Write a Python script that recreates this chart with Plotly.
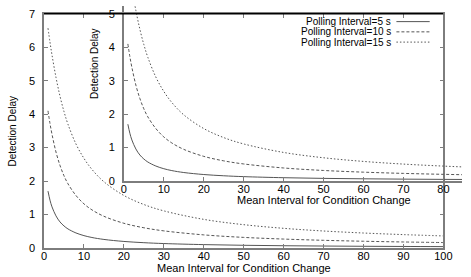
import plotly.graph_objects as go

# Mean interval for condition change (s)
interval = [1, 1.5, 2, 3, 4, 5, 6, 8, 10, 12, 15, 20, 25, 30, 40, 50, 60, 70, 80, 90, 100]

# Detection delay, per polling interval
delay_5 = [1.70, 1.43, 1.23, 0.96, 0.78, 0.66, 0.57, 0.45, 0.37, 0.314, 0.256, 0.196,
           0.159, 0.133, 0.101, 0.081, 0.068, 0.0585, 0.051, 0.0457, 0.041]
delay_10 = [4.10, 3.72, 3.40, 2.87, 2.47, 2.16, 1.92, 1.57, 1.32, 1.14, 0.948, 0.739,
            0.605, 0.512, 0.392, 0.317, 0.267, 0.230, 0.202, 0.180, 0.163]
delay_15 = [6.57, 6.15, 5.77, 5.10, 4.54, 4.08, 3.70, 3.11, 2.68, 2.35, 1.98, 1.57,
            1.30, 1.11, 0.856, 0.697, 0.588, 0.508, 0.448, 0.400, 0.361]

series_names = ["Polling Interval=5 s", "Polling Interval=10 s", "Polling Interval=15 s"]
series_vals = [delay_5, delay_10, delay_15]
dashes = ["solid", "3px,2px", "1.5px,2px"]

x_ticks_main = [0, 10, 20, 30, 40, 50, 60, 70, 80, 90, 100]
y_ticks_main = [0, 1, 2, 3, 4, 5, 6, 7]
x_ticks_inset = [0, 10, 20, 30, 40, 50, 60, 70, 80]
y_ticks_inset = [0, 1, 2, 3, 4, 5]

W, H = 471, 277
L, B = 44, 29
PW, PH = W - L, H - B  # plot area 427 x 248


def px(xpix):
    return (xpix - L) / PW


def py(ypix):
    return (PH - ypix) / PH


LINE_COL = "rgb(85,85,85)"
AX_COL = "rgb(125,125,125)"
FONT = "Liberation Sans, Arial, Helvetica, sans-serif"

fig = go.Figure()
for name, vals, dsh in zip(series_names, series_vals, dashes):
    fig.add_trace(go.Scatter(x=interval, y=vals, mode="lines", name=name,
                             line=dict(color=LINE_COL, width=1, dash=dsh, shape="spline"),
                             xaxis="x", yaxis="y", showlegend=False))
for name, vals, dsh in zip(series_names, series_vals, dashes):
    fig.add_trace(go.Scatter(x=interval, y=vals, mode="lines", name=name,
                             line=dict(color=LINE_COL, width=1, dash=dsh, shape="spline"),
                             xaxis="x2", yaxis="y2", showlegend=False))

axis_common = dict(showgrid=False, zeroline=False, ticks="inside", ticklen=4,
                   tickcolor=AX_COL, tickwidth=1, showline=True, linecolor=AX_COL,
                   linewidth=1.5, tickfont=dict(family=FONT, size=11, color="black"))

fig.update_layout(
    width=W, height=H,
    margin=dict(l=L, r=0, t=0, b=B),
    paper_bgcolor="white", plot_bgcolor="rgba(0,0,0,0)",
    showlegend=False,
    xaxis=dict(domain=[0, 408 / PW], range=[0, 100], tickvals=x_ticks_main,
               mirror="ticks", ticklabelstandoff=-3, **axis_common),
    yaxis=dict(domain=[0, 240 / PH], range=[0, 7], tickvals=y_ticks_main,
               mirror="ticks", ticklabelstandoff=5, **axis_common),
    xaxis2=dict(domain=[81.6 / PW, 1], range=[0, 345.4 / 4.08], tickvals=x_ticks_inset,
                anchor="y2", ticklabelstandoff=-3, **axis_common),
    yaxis2=dict(domain=[68.57 / PH, 1], range=[0, 179.43 / (240 / 7)], tickvals=y_ticks_inset,
                anchor="x2", ticklabelstandoff=5, **axis_common),
)

ann = []
tfont = dict(family=FONT, size=11, color="black")
lfont = dict(family=FONT, size=10, color="black")
vfont = dict(family=FONT, size=10, color="black")
ann.append(dict(x=px(248), y=py(268), xref="paper", yref="paper", text="Mean Interval for Condition Change",
                showarrow=False, font=tfont, xanchor="center", yanchor="middle", borderpad=0))
ann.append(dict(x=px(12), y=py(128), xref="paper", yref="paper", text="Detection Delay", textangle=-90,
                showarrow=False, font=vfont, xanchor="center", yanchor="middle"))
ann.append(dict(x=px(330), y=py(198.5), xref="paper", yref="paper", text="Mean Interval for Condition Change",
                showarrow=False, font=tfont, xanchor="center", yanchor="middle", borderpad=0))
ann.append(dict(x=px(95), y=py(58.5), xref="paper", yref="paper", text="Detection Delay", textangle=-90,
                showarrow=False, font=vfont, xanchor="center", yanchor="middle"))

shapes = []
rows = [16, 26.5, 37]
for name, dsh, r in zip(series_names, dashes, rows):
    ann.append(dict(x=px(400), y=py(r), xref="paper", yref="paper", text=name, showarrow=False,
                    font=lfont, xanchor="right", yanchor="middle", borderpad=0))
    shapes.append(dict(type="line", xref="paper", yref="paper", x0=px(404), x1=px(438),
                       y0=py(r), y1=py(r), line=dict(color=LINE_COL, width=1, dash=dsh)))
# dark top border of the main frame
shapes.append(dict(type="line", xref="x", yref="paper", x0=0, x1=100, y0=240 / PH, y1=240 / PH,
                   line=dict(color="black", width=1.5), layer="above"))

fig.update_layout(annotations=ann, shapes=shapes)
fig.write_html("out.html", config={"displayModeBar": False},
               post_script="document.body.style.margin='0';document.body.style.padding='0';")
